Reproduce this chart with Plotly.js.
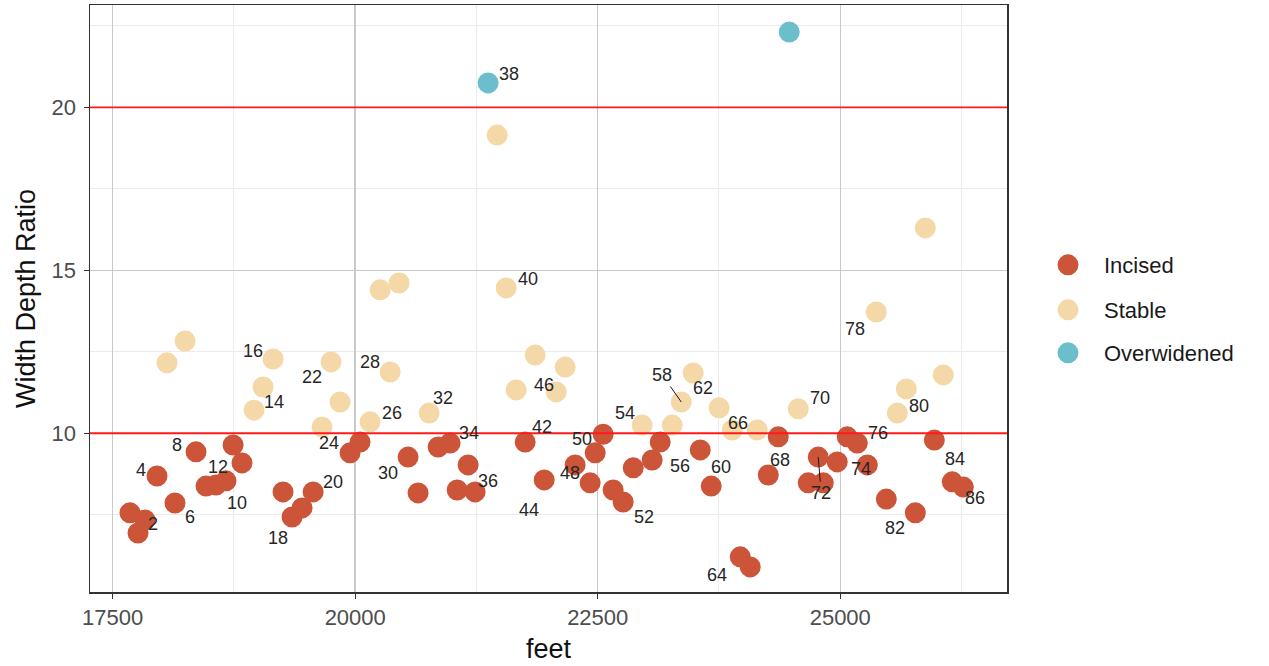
<!DOCTYPE html>
<html>
<head>
<meta charset="utf-8">
<script src="https://cdn.plot.ly/plotly-3.0.1.min.js"></script>
<style>
  html, body { margin: 0; padding: 0; background: #ffffff; }
  #chart { width: 1269px; height: 666px; }
</style>
</head>
<body>
<div id="chart"></div>
<script>
// Cross-section survey: width/depth ratio along the channel, by condition class
const stationId = [
  1, 2, 3, 4, 5, 6, 7, 8, 9, 10, 11, 12, 13, 14, 15, 16, 17, 18, 19, 20,
  21, 22, 23, 24, 25, 26, 27, 28, 29, 30, 31, 32, 33, 34, 35, 36, 37, 38, 39, 40,
  41, 42, 43, 44, 45, 46, 47, 48, 49, 50, 51, 52, 53, 54, 55, 56, 57, 58, 59, 60,
  61, 62, 63, 64, 65, 66, 67, 68, 69, 70, 71, 72, 73, 74, 75, 76, 77, 78, 79, 80,
  81, 82, 83, 84, 85, 86, 87
];
const feet = [
  17678, 17761, 17833, 17957, 18060, 18142, 18246, 18359, 18462, 18565,
  18668, 18741, 18833, 18957, 19050, 19153, 19256, 19349, 19452, 19566,
  19658, 19751, 19844, 19947, 20050, 20153, 20257, 20360, 20452, 20545,
  20648, 20762, 20855, 20978, 21051, 21164, 21236, 21370, 21463, 21556,
  21659, 21752, 21855, 21948, 22072, 22164, 22267, 22422, 22474, 22556,
  22659, 22762, 22866, 22958, 23061, 23144, 23268, 23361, 23484, 23557,
  23670, 23752, 23887, 23969, 24072, 24144, 24258, 24361, 24474, 24567,
  24670, 24773, 24825, 24969, 25072, 25176, 25279, 25372, 25475, 25588,
  25681, 25774, 25877, 25970, 26062, 26155, 26269
];
const widthDepthRatio = [
  7.56, 6.94, 7.34, 8.69, 12.16, 7.86, 12.83, 9.43, 8.38, 8.41,
  8.54, 9.64, 9.09, 10.71, 11.42, 12.28, 8.20, 7.43, 7.71, 8.20,
  10.19, 12.19, 10.96, 9.40, 9.73, 10.35, 14.40, 11.88, 14.61, 9.27,
  8.17, 10.62, 9.58, 9.70, 8.26, 9.03, 8.20, 20.75, 19.15, 14.46,
  11.33, 9.73, 12.40, 8.57, 11.27, 12.03, 9.03, 8.48, 9.40, 9.97,
  8.26, 7.89, 8.94, 10.25, 9.18, 9.73, 10.25, 10.96, 11.85, 9.49,
  8.38, 10.78, 10.10, 6.21, 5.90, 10.10, 8.72, 9.89, 22.31, 10.75,
  8.48, 9.27, 8.48, 9.12, 9.89, 9.70, 9.03, 13.72, 7.98, 10.62,
  11.36, 7.56, 16.30, 9.79, 11.79, 8.51, 8.35
];
const condition = [
  'Incised', 'Incised', 'Incised', 'Incised', 'Stable', 'Incised', 'Stable', 'Incised', 'Incised', 'Incised',
  'Incised', 'Incised', 'Incised', 'Stable', 'Stable', 'Stable', 'Incised', 'Incised', 'Incised', 'Incised',
  'Stable', 'Stable', 'Stable', 'Incised', 'Incised', 'Stable', 'Stable', 'Stable', 'Stable', 'Incised',
  'Incised', 'Stable', 'Incised', 'Incised', 'Incised', 'Incised', 'Incised', 'Overwidened', 'Stable', 'Stable',
  'Stable', 'Incised', 'Stable', 'Incised', 'Stable', 'Stable', 'Incised', 'Incised', 'Incised', 'Incised',
  'Incised', 'Incised', 'Incised', 'Stable', 'Incised', 'Incised', 'Stable', 'Stable', 'Stable', 'Incised',
  'Incised', 'Stable', 'Stable', 'Incised', 'Incised', 'Stable', 'Incised', 'Incised', 'Overwidened', 'Stable',
  'Incised', 'Incised', 'Incised', 'Incised', 'Incised', 'Incised', 'Incised', 'Stable', 'Incised', 'Stable',
  'Stable', 'Incised', 'Stable', 'Incised', 'Stable', 'Incised', 'Incised'
];
const classes = ['Incised', 'Stable', 'Overwidened'];
const thresholds = [10, 20];
const xTicks = [17500, 20000, 22500, 25000];
const yTicks = [10, 15, 20];

// ---- styling ----
const classColors = { Incised: '#CC5439', Stable: '#F5D8A7', Overwidened: '#6CBECD' };
const FONT = 'Liberation Sans, Arial, Helvetica, sans-serif';

// pixel nudges for the station labels (every other station is labelled)
const labelNudge = {
  2: [15, -9], 4: [-16, -6], 6: [15, 14], 8: [-19, -7], 10: [21, 18], 12: [-15, 22],
  14: [20, -8], 16: [-20, -8], 18: [-14, 21], 20: [20, -10], 22: [-19, 15], 24: [-21, -10],
  26: [22, -9], 28: [-20, -10], 30: [-20, 16], 32: [14, -15], 34: [19, -10], 36: [20, 16],
  38: [21, -9], 40: [22, -9], 42: [17, -15], 44: [-15, 30], 46: [-21, 18], 48: [-20, -10],
  50: [-21, 5], 52: [21, 15], 54: [-17, -12], 56: [20, 24], 58: [-19, -27], 60: [21, 17],
  62: [-16, -20], 64: [-23, 18], 66: [-19, -7], 68: [2, 23], 70: [22, -11], 72: [3, 36],
  74: [24, 7], 76: [21, -10], 78: [-21, 17], 80: [22, -7], 82: [-20, 15], 84: [21, 19],
  86: [23, 16]
};
const leaderLabels = [58, 72];

// plot panel in pixels (used to place the legends in paper space)
const panel = { left: 90, right: 1007, top: 5, bottom: 592 };
const panelH = panel.bottom - panel.top;
const panelW = panel.right - panel.left;
const legendRows = [265, 310, 353];

const traces = classes.map((cls, k) => {
  const idx = [];
  condition.forEach((c, i) => { if (c === cls) idx.push(i); });
  return {
    type: 'scatter',
    mode: 'markers',
    name: cls,
    x: idx.map(i => feet[i]),
    y: idx.map(i => widthDepthRatio[i]),
    marker: { size: 16, color: classColors[cls], line: { width: 5, color: classColors[cls] } },
    legend: k === 0 ? 'legend' : 'legend' + (k + 1),
    hoverinfo: 'skip'
  };
});

const annotations = [];
stationId.forEach((id, i) => {
  if (id % 2 !== 0) return;
  const nudge = labelNudge[id] || [15, -10];
  const base = {
    x: feet[i], y: widthDepthRatio[i], xref: 'x', yref: 'y',
    text: String(id),
    font: { family: FONT, size: 18, color: '#262626' }
  };
  if (leaderLabels.includes(id)) {
    annotations.push(Object.assign(base, {
      showarrow: true, arrowhead: 0, arrowwidth: 1, arrowcolor: '#1a1a1a',
      ax: nudge[0], ay: nudge[1], standoff: 0
    }));
  } else {
    annotations.push(Object.assign(base, {
      showarrow: false, xshift: nudge[0], yshift: -nudge[1]
    }));
  }
});

const shapes = thresholds.map(t => ({
  type: 'line', xref: 'paper', x0: 0, x1: 1, yref: 'y', y0: t, y1: t,
  line: { color: '#FF1A1A', width: 1.8 }, layer: 'above'
}));

function legendAt(row) {
  return {
    x: (1032 - panel.left) / panelW, xanchor: 'left',
    y: (panel.bottom - row) / panelH, yanchor: 'middle',
    itemsizing: 'trace', itemwidth: 62,
    bgcolor: 'rgba(0,0,0,0)', borderwidth: 0,
    font: { family: FONT, size: 22, color: '#1a1a1a' },
    itemclick: false, itemdoubleclick: false
  };
}

const axisCommon = {
  showline: true, mirror: true, linecolor: '#333333', linewidth: 1.5,
  ticks: 'outside', ticklen: 5, tickcolor: '#333333', tickwidth: 1.2,
  showgrid: true, gridcolor: '#C9C9C9', gridwidth: 1.5,
  zeroline: false,
  tickfont: { family: FONT, size: 22, color: '#4D4D4D' }
};

const layout = {
  width: 1269, height: 666,
  paper_bgcolor: '#ffffff', plot_bgcolor: '#ffffff',
  margin: { l: panel.left, r: 1269 - panel.right, t: panel.top, b: 666 - panel.bottom, pad: 0 },
  showlegend: true,
  xaxis: Object.assign({}, axisCommon, {
    range: [17266, 26719], tickvals: xTicks, ticktext: xTicks.map(String),
    minor: { tickvals: [18750, 21250, 23750, 26250], showgrid: true, gridcolor: '#EBEBEB', gridwidth: 1, ticks: '' },
    title: { text: 'feet', font: { family: FONT, size: 27, color: '#111111' }, standoff: 10 },
    automargin: false
  }),
  yaxis: Object.assign({}, axisCommon, {
    range: [5.13, 23.14], tickvals: yTicks, ticktext: yTicks.map(String),
    ticklabelstandoff: 3,
    minor: { tickvals: [7.5, 12.5, 17.5, 22.5], showgrid: true, gridcolor: '#EBEBEB', gridwidth: 1, ticks: '' },
    title: { text: 'Width Depth Ratio', font: { family: FONT, size: 27, color: '#111111' }, standoff: 8 },
    automargin: false
  }),
  legend: legendAt(legendRows[0]),
  legend2: legendAt(legendRows[1]),
  legend3: legendAt(legendRows[2]),
  shapes: shapes,
  annotations: annotations
};

Plotly.newPlot('chart', traces, layout, { staticPlot: true, displayModeBar: false });
</script>
</body>
</html>
